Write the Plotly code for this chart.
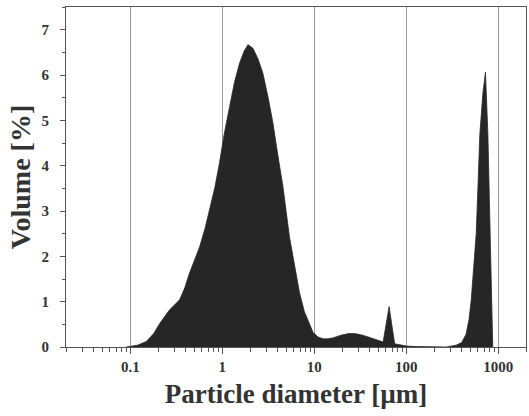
import plotly.graph_objects as go

# Particle diameter [µm] and volume [%]
diameter = [0.09, 0.1, 0.12, 0.149, 0.18, 0.209, 0.24, 0.267, 0.30, 0.343, 0.39, 0.44, 0.50, 0.567,
            0.65, 0.73, 0.83, 0.93, 1.05, 1.20, 1.36, 1.54, 1.72, 1.90, 2.15, 2.45, 2.76, 3.15,
            3.55, 4.0, 4.56, 5.36, 6.1, 6.9, 7.8, 8.9, 9.7, 11.0, 12.4, 14.0, 15.9, 19.5, 24.0,
            28.5, 33.5, 40.0, 47.0, 56.0, 65.0, 74.7, 85.0, 100.0, 130.0, 200.0,
            272.0, 348.0, 400.0, 446.0, 480.0, 508.0, 540.0, 575.0, 600.0, 630.0, 680.0, 725.0,
            770.0, 800.0, 830.0, 860.0, 870.0]
volume = [0.0, 0.01, 0.04, 0.12, 0.30, 0.52, 0.70, 0.82, 0.92, 1.04, 1.30, 1.63, 1.92, 2.21,
          2.62, 3.02, 3.52, 4.05, 4.70, 5.30, 5.85, 6.26, 6.52, 6.67, 6.59, 6.35, 6.04, 5.50,
          4.94, 4.25, 3.54, 2.44, 1.80, 1.20, 0.78, 0.48, 0.32, 0.22, 0.18, 0.18, 0.20, 0.26, 0.30,
          0.29, 0.26, 0.21, 0.16, 0.11, 0.89, 0.07, 0.05, 0.02, 0.01, 0.0,
          0.0, 0.04, 0.10, 0.28, 0.60, 1.04, 1.70, 2.50, 3.50, 4.70, 5.60, 6.06,
          4.70, 3.30, 1.77, 0.10, 0.0]

x_tickvals = [0.1, 1, 10, 100, 1000]
x_ticktext = ["0.1", "1", "10", "100", "1000"]
y_tickvals = [0, 1, 2, 3, 4, 5, 6, 7]

FONT = "Liberation Serif"
AX = "#555555"
TXT = "#333333"

fig = go.Figure()
fig.add_trace(go.Scatter(
    x=diameter, y=volume, mode="lines", fill="tozeroy",
    fillcolor="#262626", line=dict(color="#262626", width=0.8),
    hoverinfo="x+y", showlegend=False,
))

fig.update_layout(
    width=529, height=416,
    margin=dict(l=66, r=3, t=7, b=69),
    paper_bgcolor="white", plot_bgcolor="white",
    font=dict(family=FONT, color=TXT),
    xaxis=dict(
        type="log", range=[-1.699, 3.301], automargin=False,
        tickvals=x_tickvals, ticktext=x_ticktext,
        ticks="outside", ticklen=6, tickwidth=1, tickcolor=AX,
        showgrid=True, gridcolor="#999999", gridwidth=1,
        showline=True, linecolor=AX, linewidth=1, mirror=True,
        zeroline=False,
        tickfont=dict(family=FONT, size=15, color=TXT, weight="bold"),
        title=dict(text="Particle diameter [µm]", standoff=10,
                   font=dict(family=FONT, size=27, color=TXT, weight="bold")),
        minor=dict(dtick="D1", ticks="outside", ticklen=4, tickcolor=AX, showgrid=False),
    ),
    yaxis=dict(
        range=[0, 7.5], tickvals=y_tickvals, automargin=False,
        ticks="outside", ticklen=5, tickwidth=1, tickcolor=AX,
        showgrid=False, zeroline=False,
        showline=True, linecolor=AX, linewidth=1, mirror=True,
        tickfont=dict(family=FONT, size=15, color=TXT, weight="bold"),
        ticklabelstandoff=8,
        title=dict(text="Volume [%]", standoff=2,
                   font=dict(family=FONT, size=28, color=TXT, weight="bold")),
        minor=dict(dtick=0.5, ticks="outside", ticklen=3, tickcolor=AX),
    ),
)

fig.write_html("out.html", config={"displayModeBar": False},
               post_script="document.body.style.margin='0';document.body.style.overflow='hidden';")
